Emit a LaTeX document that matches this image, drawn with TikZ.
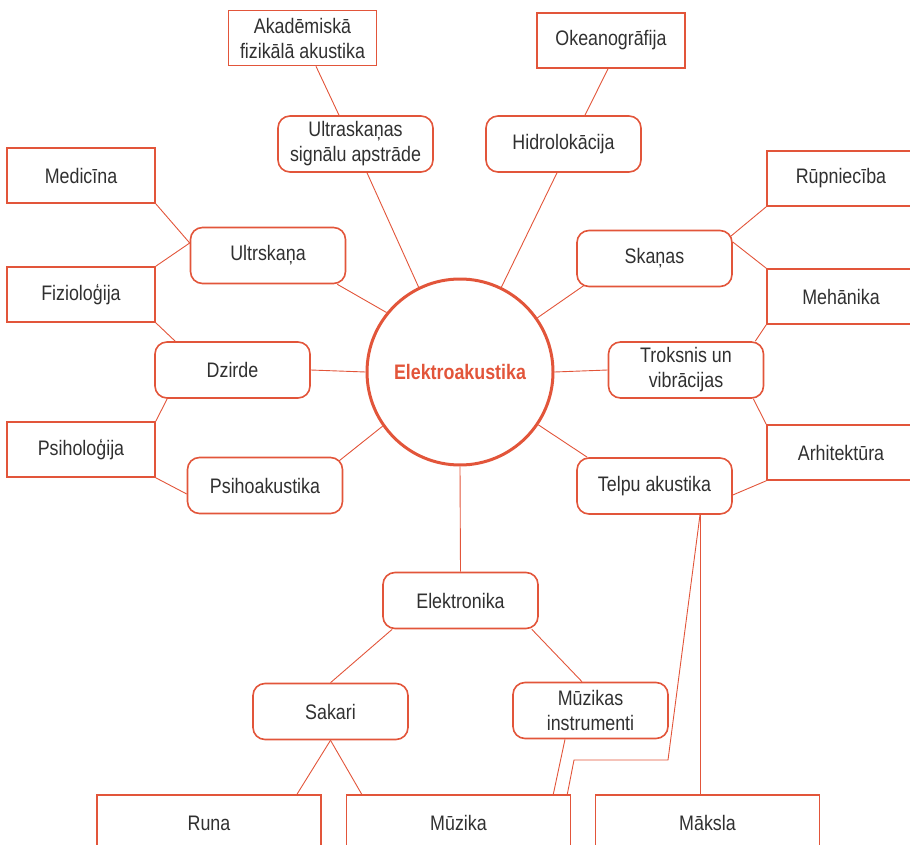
\documentclass[tikz,border=0pt]{standalone}
\usepackage{fontspec}
\setmainfont{Liberation Sans}[FakeStretch=0.85]
\definecolor{accent}{HTML}{E2553A}
\definecolor{ink}{HTML}{303030}
\begin{document}
\begin{tikzpicture}[x=1pt,y=-1pt,
  every node/.style={font=\fontsize{21}{25}\selectfont, text=ink, align=center, inner sep=0pt},
  topic/.style={draw=accent, line width=1.6pt, rounded corners=12pt, minimum width=155pt, minimum height=56pt},
  field/.style={draw=accent, line width=1.6pt, minimum width=148pt, minimum height=55pt},
  widefield/.style={field, minimum width=224pt, minimum height=56pt},
  link/.style={draw=accent, line width=0.9pt}]
\useasboundingbox (0,0) rectangle (910,845);
\clip (0,0) rectangle (910,845);

% central hub
\node[circle, draw=accent, line width=3pt, minimum size=186pt] (hub) at (460,372)
  {\textcolor{accent}{\bfseries Elektroakustika}};

% first ring (rounded boxes)
\node[topic] (ultra)   at (355.5,144) {Ultraskaņas\\signālu apstrāde};
\node[topic] (hidro)   at (563.5,144) {Hidrolokācija};
\node[topic] (ultrsk)  at (268,255.5) {Ultrskaņa};
\node[topic] (dzirde)  at (232.5,370) {Dzirde};
\node[topic] (psihoak) at (265,485.5) {Psihoakustika};
\node[topic] (skanas)  at (654.5,258.5) {Skaņas};
\node[topic] (troks)   at (686,370) {Troksnis un\\vibrācijas};
\node[topic] (telpu)   at (654.5,486) {Telpu akustika};
\node[topic] (elektr)  at (460.5,600.5) {Elektronika};
\node[topic] (sakari)  at (330.5,711.5) {Sakari};
\node[topic] (muzinst) at (590.5,710.5) {Mūzikas\\instrumenti};

% outer fields (square boxes)
\node[field] (akad)   at (302.5,38) {Akadēmiskā\\fizikālā akustika};
\node[field] (okean)  at (611,40.5) {Okeanogrāfija};
\node[field] (medic)  at (81,175.5) {Medicīna};
\node[field] (fiziol) at (81,294.5) {Fizioloģija};
\node[field] (psihol) at (81,449.5) {Psiholoģija};
\node[field] (rupn)   at (841,178.5) {Rūpniecība};
\node[field] (mehan)  at (841,296.5) {Mehānika};
\node[field] (arhit)  at (841,452.5) {Arhitektūra};
\node[widefield] (runa)   at (209,823) {Runa};
\node[widefield] (muzika) at (458.5,823) {Mūzika};
\node[widefield] (maksla) at (707.5,823) {Māksla};

% hub spokes
\draw[link] ([xshift=11.5]ultra.south) -- (hub.116);
\draw[link] ([xshift=-6.5]hidro.south) -- (hub.64.5);
\draw[link] ([xshift=-9]ultrsk.south east) -- (hub.141);
\draw[link] (dzirde.east) -- (hub.180);
\draw[link] ([shift={(-4,4)}]psihoak.north east) -- (hub.215);
\draw[link] ([shift={(8,-2)}]skanas.south west) -- (hub.35);
\draw[link] (troks.west) -- (hub.0);
\draw[link] ([xshift=11]telpu.north west) -- (hub.-34.5);
\draw[link] (hub.south) -- (elektr.north);

% outer links
\draw[link] ([xshift=13.5]akad.south) -- ([xshift=-16.5]ultra.north);
\draw[link] ([xshift=-3]okean.south) -- ([xshift=21.5]hidro.north);
\draw[link] (medic.south east) -- ([yshift=12.5]ultrsk.west);
\draw[link] (fiziol.north east) -- ([yshift=12.5]ultrsk.west);
\draw[link] (fiziol.south east) -- ([xshift=21]dzirde.north west);
\draw[link] ([xshift=13]dzirde.south west) -- (psihol.north east);
\draw[link] (psihol.south east) -- ([yshift=-8.5]psihoak.west);
\draw[link] ([shift={(-2,6.5)}]skanas.north east) -- (rupn.south west);
\draw[link] ([yshift=16.5]skanas.east) -- (mehan.north west);
\draw[link] ([xshift=-9]troks.north east) -- (mehan.south west);
\draw[link] ([xshift=-11]troks.south east) -- (arhit.north west);
\draw[link] ([yshift=-9]telpu.east) -- (arhit.south west);

% electronics branch
\draw[link] ([xshift=10]elektr.south west) -- (sakari.north);
\draw[link] ([xshift=-7]elektr.south east) -- ([xshift=-8.5]muzinst.north);
\draw[link] (sakari.south) -- ([xshift=88]runa.north);
\draw[link] (sakari.south) -- ([xshift=16]muzika.north west);
\draw[link] ([xshift=-25.5]muzinst.south) -- ([xshift=-18]muzika.north east);
\draw[link] ([xshift=45.5]telpu.south) -- ([xshift=-7.5]maksla.north);
\coordinate (bendA) at (668,760);
\coordinate (bendB) at (574,760);
\draw[link] ([xshift=45.5]telpu.south) -- (bendA) -- (bendB) -- ([xshift=-4]muzika.north east);
\end{tikzpicture}
\end{document}
